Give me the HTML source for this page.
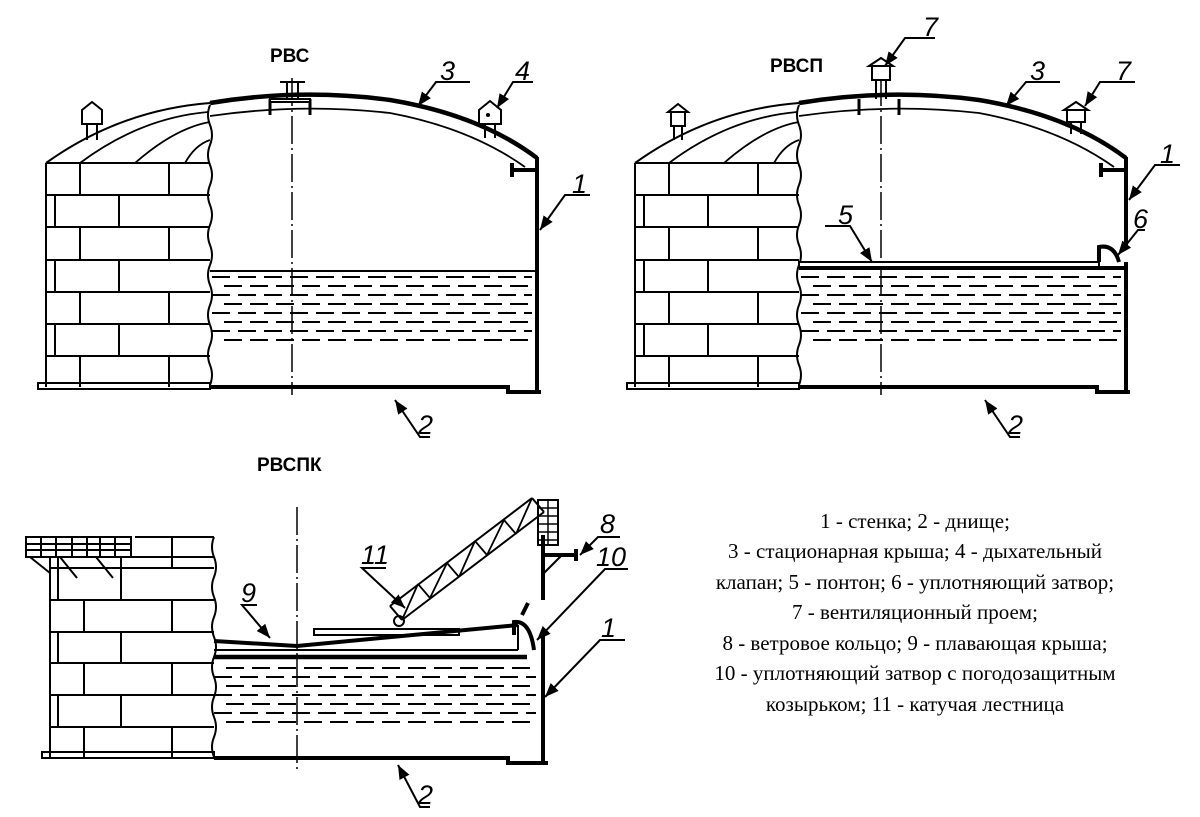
<!DOCTYPE html>
<html><head><meta charset="utf-8"><style>
html,body{margin:0;padding:0;background:#fff;}
svg{display:block}
.t{font-family:"Liberation Sans",sans-serif;font-weight:bold;font-size:19px}
.n{font-family:"Liberation Sans",sans-serif;font-style:italic;font-size:27px}
.lg{font-family:"Liberation Serif",serif;font-size:21px}
</style></head><body>
<svg width="1200" height="817" viewBox="0 0 1200 817" xmlns="http://www.w3.org/2000/svg">
<defs>
<marker id="ar" viewBox="0 0 10 10" refX="10" refY="5" markerWidth="7" markerHeight="7" orient="auto-start-reverse"><path d="M0,1 L10,5 L0,9 z" fill="#000"/></marker>
<g id="bricks" stroke="#000" stroke-width="2" fill="none">
 <line x1="46" y1="163" x2="210" y2="163"/>
 <line x1="46" y1="195" x2="210" y2="195"/>
 <line x1="46" y1="227" x2="210" y2="227"/>
 <line x1="46" y1="260" x2="210" y2="260"/>
 <line x1="46" y1="292" x2="210" y2="292"/>
 <line x1="46" y1="324" x2="210" y2="324"/>
 <line x1="46" y1="356" x2="210" y2="356"/>
 <line x1="46" y1="163" x2="46" y2="387"/>
 <path d="M80,163V195 M169,163V195 M55,195V227 M119,195V227 M80,227V260 M169,227V260 M55,260V292 M119,260V292 M80,292V324 M169,292V324 M55,324V356 M119,324V356 M80,356V387 M169,356V387"/>
 <path d="M210,105 q-4,10 0,20 q4,10 0,20 q-4,10 0,20 q4,10 0,20 q-4,10 0,20 q4,10 0,20 q-4,10 0,20 q4,10 0,20 q-4,10 0,20 q4,10 0,20 q-4,10 0,20 q4,10 0,20 q-4,10 0,20 q4,10 0,20"/>
 <rect x="38" y="383" width="172" height="6"/>
</g>
<g id="dome" stroke="#000" fill="none">
 <path d="M46,163 Q120,110 210,103" stroke-width="2"/>
 <path d="M80,163 Q140,118 208,112" stroke-width="1.8"/>
 <path d="M135,163 Q175,128 210,122" stroke-width="1.8"/>
 <path d="M185,163 Q195,145 210,140" stroke-width="1.8"/>
 <path d="M210,103 Q300,88 390,100 Q480,115 537,158" stroke-width="4.5"/>
 <path d="M210,116 Q300,103 390,113 Q470,128 525,167" stroke-width="1.8"/>
 <line x1="537" y1="157" x2="537" y2="170" stroke-width="4"/>
 <path d="M537,170 H512 M512,163 V177" stroke-width="4"/>
 <path d="M270,99 V115 M310,99 V115" stroke-width="3"/>
 <line x1="292" y1="78" x2="292" y2="395" stroke-width="1.5" stroke-dasharray="28,4,2,4"/>
 <path d="M210,387 H508 V392 H541" stroke-width="4"/>
</g>
<g id="liqA" stroke="#000" stroke-width="2">
 <line x1="212" y1="277" x2="532" y2="277" stroke-dasharray="18,8"/>
 <line x1="224" y1="286" x2="532" y2="286" stroke-dasharray="18,8"/>
 <line x1="212" y1="295" x2="532" y2="295" stroke-dasharray="18,8"/>
 <line x1="224" y1="304" x2="532" y2="304" stroke-dasharray="18,8"/>
 <line x1="212" y1="313" x2="532" y2="313" stroke-dasharray="18,8"/>
 <line x1="224" y1="322" x2="532" y2="322" stroke-dasharray="18,8"/>
 <line x1="212" y1="331" x2="532" y2="331" stroke-dasharray="18,8"/>
 <line x1="224" y1="340" x2="532" y2="340" stroke-dasharray="18,8"/>
</g>
</defs>

<!-- РВС -->
<text x="270" y="62" class="t">РВС</text>
<use href="#bricks"/><use href="#dome"/><use href="#liqA"/>
<line x1="210" y1="271" x2="537" y2="271" stroke="#000" stroke-width="2"/>
<line x1="537" y1="165" x2="537" y2="392" stroke="#000" stroke-width="4"/>
<g stroke="#000" stroke-width="2" fill="#fff">
 <path d="M82,110 L92,102 L102,110 V124 H82 Z"/><path d="M87,124 V140 M97,124 V140"/>
 <path d="M479,110 L490,101 L501,110 V124 H479 Z"/><path d="M485,124 V138 M495,124 V138"/>
 <path d="M280,82 H305 M287,82 V99 M298,82 V99"/><rect x="270" y="99" width="40" height="3"/>
</g>
<circle cx="488" cy="115" r="2"/>
<g stroke="#000" stroke-width="2" fill="none">
 <path d="M470,82 H436 L418,106" marker-end="url(#ar)"/>
 <path d="M533,82 H513 L497,108" marker-end="url(#ar)"/>
 <path d="M590,195 H565 L540,230" marker-end="url(#ar)"/>
 <path d="M430,437 H420 L395,400" marker-end="url(#ar)"/>
</g>
<text x="440" y="80" class="n">3</text><text x="515" y="80" class="n">4</text>
<text x="572" y="193" class="n">1</text><text x="418" y="434" class="n">2</text>

<!-- РВСП -->
<text x="770" y="72" class="t">РВСП</text>
<g transform="translate(589,0)">
 <use href="#bricks"/><use href="#dome"/><use href="#liqA"/>
 <rect x="210" y="262" width="300" height="5" fill="#fff" stroke="#000" stroke-width="2"/>
 <line x1="210" y1="268" x2="537" y2="268" stroke="#000" stroke-width="4"/>
 <line x1="537" y1="165" x2="537" y2="245" stroke="#000" stroke-width="4"/>
 <line x1="537" y1="262" x2="537" y2="392" stroke="#000" stroke-width="4"/>
 <path d="M510,262 V247 Q525,244 530,262" fill="none" stroke="#000" stroke-width="4"/>
 <g stroke="#000" stroke-width="2" fill="#fff">
  <path d="M79,112 L89,104 L99,112 H79 Z"/><rect x="82" y="112" width="14" height="14"/><path d="M85,126V140 M93,126V140"/>
  <path d="M280,66 L292,58 L304,66 Z"/><rect x="283" y="66" width="18" height="14"/><path d="M287,80V99 M297,80V99"/>
  <path d="M475,110 L487,102 L499,110 Z"/><rect x="478" y="110" width="18" height="12"/><path d="M482,122V134 M492,122V134"/>
 </g>
</g>
<g stroke="#000" stroke-width="2" fill="none">
 <path d="M935,38 H905 L885,66" marker-end="url(#ar)"/>
 <path d="M1060,82 H1026 L1006,106" marker-end="url(#ar)"/>
 <path d="M1135,82 H1100 L1085,106" marker-end="url(#ar)"/>
 <path d="M1180,165 H1155 L1129,200" marker-end="url(#ar)"/>
 <path d="M1145,230 H1138 L1118,255" marker-end="url(#ar)"/>
 <path d="M825,226 H850 L872,262" marker-end="url(#ar)"/>
 <path d="M1020,437 H1010 L985,400" marker-end="url(#ar)"/>
</g>
<text x="923" y="36" class="n">7</text><text x="1030" y="80" class="n">3</text><text x="1116" y="80" class="n">7</text>
<text x="1160" y="163" class="n">1</text><text x="1133" y="228" class="n">6</text><text x="838" y="224" class="n">5</text>
<text x="1008" y="434" class="n">2</text>

<!-- РВСПК -->
<text x="257" y="471" class="t">РВСПК</text>
<g stroke="#000" stroke-width="2" fill="none">
 <path d="M50,557 H214 M50,568 H214 M50,600 H214 M50,632 H214 M50,663 H214 M50,695 H214 M50,727 H214"/>
 <line x1="135" y1="537" x2="214" y2="537"/>
 <path d="M50,557 V758 M58,557V600 M58,632V663 M58,695V727 M84,600V632 M84,663V695 M84,727V758 M121,557V600 M121,632V663 M121,695V727 M172,537V568 M172,600V632 M172,663V695 M172,727V758"/>
 <rect x="26" y="537" width="105" height="20"/>
 <path d="M26,544 H131 M26,550 H131 M41,537V557 M56,537V557 M72,537V557 M87,537V557 M100,537V557 M115,537V557"/>
 <path d="M30,557 L50,573 M60,557 L77,578 M96,557 L113,578"/>
 <path d="M214,537 q-4,10 0,20 q4,10 0,20 q-4,10 0,20 q4,10 0,20 q-4,10 0,20 q4,10 0,20 q-4,10 0,20 q4,10 0,20 q-4,10 0,20 q4,10 0,20 q-4,10 0,20"/>
 <rect x="42" y="752" width="172" height="6"/>
 <line x1="297" y1="507" x2="297" y2="770" stroke-width="1.5" stroke-dasharray="28,4,2,4"/>
 <rect x="314" y="629" width="145" height="6" fill="#fff"/>
</g>
<g stroke="#000" stroke-width="2">
 <line x1="226" y1="668" x2="536" y2="668" stroke-dasharray="18,8"/>
 <line x1="214" y1="677" x2="536" y2="677" stroke-dasharray="18,8"/>
 <line x1="226" y1="686" x2="536" y2="686" stroke-dasharray="18,8"/>
 <line x1="214" y1="695" x2="536" y2="695" stroke-dasharray="18,8"/>
 <line x1="226" y1="704" x2="536" y2="704" stroke-dasharray="18,8"/>
 <line x1="214" y1="713" x2="536" y2="713" stroke-dasharray="18,8"/>
 <line x1="226" y1="722" x2="536" y2="722" stroke-dasharray="18,8"/>
</g>
<g stroke="#000" fill="none">
 <path d="M214,641 L297,646 L518,625" stroke-width="4"/>
 <line x1="214" y1="650" x2="518" y2="650" stroke-width="2"/>
 <path d="M214,657 H527" stroke-width="4.5"/>
 <path d="M518,625 V650" stroke-width="2"/>
 <path d="M514,635 V622 Q530,620 534,650" stroke-width="4"/>
 <path d="M522,615 L528,603" stroke-width="4"/>
 <line x1="543" y1="535" x2="543" y2="600" stroke-width="4"/>
 <line x1="543" y1="636" x2="543" y2="763" stroke-width="4"/>
 <path d="M214,758 H508 V763 H548" stroke-width="4"/>
 <path d="M543,555 H576 M576,549 V561" stroke-width="4"/>
 <path d="M543,574 L562,555" stroke-width="2"/>
 <!-- ladder -->
 <path d="M390,606 L532,498 M402,620 L544,512 M390,606 L402,620 M532,498 L544,512" stroke-width="2"/>
 <path d="M402,620 L418,584 M430,598 L447,563 M459,577 L475,541 M487,555 L504,520 M516,534 L532,498" stroke-width="1.8"/>
 <path d="M418,584 L430,598 M447,563 L459,577 M475,541 L487,555 M504,520 L516,534" stroke-width="1.8"/>
 <circle cx="399" cy="621" r="5" stroke-width="2"/>
 <rect x="538" y="500" width="20" height="45" stroke-width="2"/>
 <path d="M538,508H558 M538,516H558 M538,524H558 M538,532H558 M538,540H558 M548,500V545" stroke-width="1.5"/>
</g>
<g stroke="#000" stroke-width="2" fill="none">
 <path d="M257,605 H242 L270,638" marker-end="url(#ar)"/>
 <path d="M386,568 H362 L405,608" marker-end="url(#ar)"/>
 <path d="M620,537 H598 L580,555" marker-end="url(#ar)"/>
 <path d="M628,569 H605 L537,640" marker-end="url(#ar)"/>
 <path d="M625,640 H600 L545,697" marker-end="url(#ar)"/>
 <path d="M430,807 H420 L398,765" marker-end="url(#ar)"/>
</g>
<text x="241" y="602" class="n">9</text><text x="361" y="564" class="n">11</text><text x="600" y="533" class="n">8</text>
<text x="596" y="566" class="n">10</text><text x="601" y="637" class="n">1</text><text x="418" y="804" class="n">2</text>

<!-- legend -->
<g class="lg" text-anchor="middle">
 <text x="915" y="528">1 - стенка; 2 - днище;</text>
 <text x="915" y="558">3 - стационарная крыша; 4 - дыхательный</text>
 <text x="915" y="589">клапан; 5 - понтон; 6 - уплотняющий затвор;</text>
 <text x="915" y="619">7 - вентиляционный проем;</text>
 <text x="915" y="650">8 - ветровое кольцо; 9 - плавающая крыша;</text>
 <text x="915" y="680">10 - уплотняющий затвор с погодозащитным</text>
 <text x="915" y="711">козырьком; 11 - катучая лестница</text>
</g>
</svg>
</body></html>
